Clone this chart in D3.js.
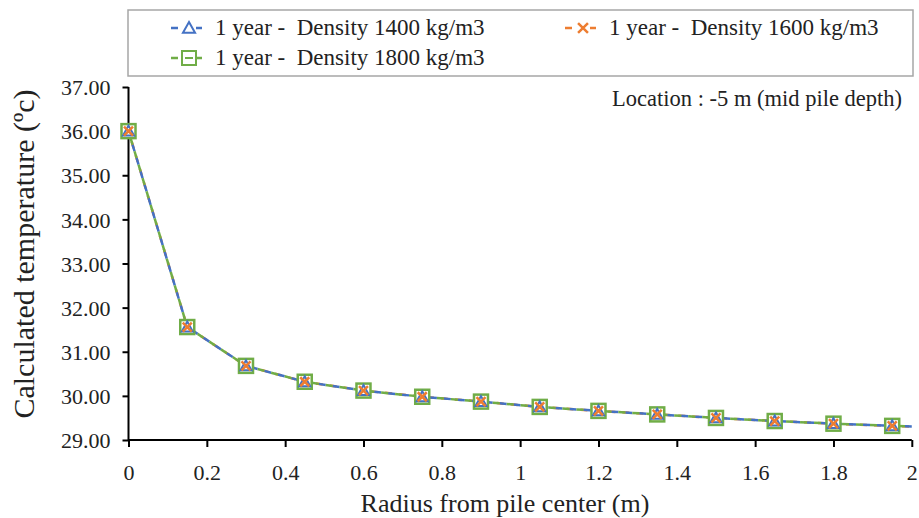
<!DOCTYPE html>
<html>
<head>
<meta charset="utf-8">
<script src="https://cdn.jsdelivr.net/npm/d3@7"></script>
<style>
  html, body { margin: 0; padding: 0; background: #fff; }
  svg { display: block; }
</style>
</head>
<body>
<svg id="chart" width="919" height="518"></svg>
<script>
// Radial distance from the pile centre (m)
const radius = [0, 0.15, 0.3, 0.45, 0.6, 0.75, 0.9, 1.05, 1.2, 1.35, 1.5, 1.65, 1.8, 1.95, 2.1];
// Calculated temperature after one year (°C) for each soil density
const temp1400 = [36.00, 31.56, 30.68, 30.32, 30.12, 29.98, 29.87, 29.75, 29.66, 29.58, 29.50, 29.43, 29.37, 29.32, 29.27];
const temp1600 = [36.00, 31.56, 30.68, 30.32, 30.12, 29.98, 29.87, 29.75, 29.66, 29.58, 29.50, 29.43, 29.37, 29.32, 29.27];
const temp1800 = [36.00, 31.56, 30.68, 30.32, 30.12, 29.98, 29.87, 29.75, 29.66, 29.58, 29.50, 29.43, 29.37, 29.32, 29.27];
const seriesNames = ["1 year -  Density 1400 kg/m3", "1 year -  Density 1600 kg/m3", "1 year -  Density 1800 kg/m3"];
const xTicks = [0, 0.2, 0.4, 0.6, 0.8, 1, 1.2, 1.4, 1.6, 1.8, 2];
const yTicks = [29, 30, 31, 32, 33, 34, 35, 36, 37];

const FONT = '"Liberation Serif", "Times New Roman", Tinos, serif';
const svg = d3.select("#chart");
const m = { left: 128.5, right: 911.8, top: 87, bottom: 440 };

const x = d3.scaleLinear().domain([0, 2]).range([m.left, m.right]);
const y = d3.scaleLinear().domain([29, 37]).range([m.bottom, m.top]);

const series = [
  { name: seriesNames[0], values: temp1400, color: "#4472C4", marker: "triangle", dash: "7,7", dashOffset: 0 },
  { name: seriesNames[1], values: temp1600, color: "#ED7D31", marker: "x", dash: "7,7", dashOffset: 3 },
  { name: seriesNames[2], values: temp1800, color: "#70AD47", marker: "square", dash: "7,7", dashOffset: 7 }
];

svg.append("defs").append("clipPath").attr("id", "plotClip")
  .append("rect").attr("x", m.left).attr("y", m.top - 20)
  .attr("width", m.right - m.left).attr("height", m.bottom - m.top + 20);

// Axes
const yAxis = d3.axisLeft(y).tickValues(yTicks).tickFormat(d3.format(".2f")).tickSize(6).tickPadding(12);
const xAxis = d3.axisBottom(x).tickValues(xTicks).tickFormat(d => d3.format("")(+d.toFixed(1))).tickSize(7).tickPadding(17);

const gy = svg.append("g").attr("transform", `translate(${m.left},0)`).call(yAxis);
const gx = svg.append("g").attr("transform", `translate(0,${m.bottom})`).call(xAxis);
[gx, gy].forEach(g => {
  g.attr("font-family", null).attr("font-size", null);
  g.select(".domain").attr("stroke", "#000").attr("stroke-width", 2);
  g.selectAll(".tick line").attr("stroke", "#000").attr("stroke-width", 2);
  g.selectAll(".tick text").attr("fill", "#222").style("font-size", "22px");
});
gy.selectAll(".tick text").attr("dy", "0.35em");
gy.select(".domain").attr("d", `M0,${m.bottom}V${m.top}`);
gx.select(".domain").attr("d", `M${m.left},0H${m.right}`);

// Lines
const line = d3.line().x((d, i) => x(radius[i])).y(d => y(d));
const plot = svg.append("g").attr("clip-path", "url(#plotClip)");
[series[1], series[0], series[2]].forEach(s => {
  plot.append("path").datum(s.values)
    .attr("d", line).attr("fill", "none")
    .attr("stroke", s.color).attr("stroke-width", 2.5)
    .attr("stroke-dasharray", s.dash).attr("stroke-dashoffset", s.dashOffset);
});

// Marker drawing
function drawMarker(g, type, color, cx, cy, scale) {
  const k = scale || 1;
  if (type === "square") {
    g.append("rect").attr("x", cx - 7 * k).attr("y", cy - 7 * k)
      .attr("width", 14 * k).attr("height", 14 * k)
      .attr("fill", "#fff").attr("stroke", color).attr("stroke-width", 2.5);
  } else if (type === "triangle") {
    const s = 5.5 * k;
    g.append("path").attr("d", `M${cx},${cy - s}L${cx + s},${cy + s * 0.8}L${cx - s},${cy + s * 0.8}Z`)
      .attr("fill", "none").attr("stroke", color).attr("stroke-width", 2);
  } else {
    const s = 4.5 * k;
    g.append("path").attr("d", `M${cx - s},${cy - s}L${cx + s},${cy + s}M${cx - s},${cy + s}L${cx + s},${cy - s}`)
      .attr("fill", "none").attr("stroke", color).attr("stroke-width", 2.5);
  }
}

const markers = svg.append("g");
[series[2], series[0], series[1]].forEach(s => {
  s.values.forEach((v, i) => {
    if (radius[i] <= 2) drawMarker(markers, s.marker, s.color, x(radius[i]), y(v));
  });
});

// Axis titles
svg.append("text").attr("x", 505).attr("y", 512).attr("text-anchor", "middle")
  .attr("fill", "#222").style("font-size", "26px").text("Radius from pile center (m)");
svg.append("text").attr("transform", "translate(34,254) rotate(-90)").attr("text-anchor", "middle")
  .attr("fill", "#222").style("font-size", "30px").text("Calculated temperature (\u00BAc)");

// Location note
svg.append("text").attr("x", 902).attr("y", 106).attr("text-anchor", "end")
  .attr("fill", "#222").style("font-size", "22.5px").text("Location : -5 m (mid pile depth)");

// Legend
const lg = svg.append("g");
lg.append("rect").attr("x", 128).attr("y", 10).attr("width", 785).attr("height", 66)
  .attr("fill", "#fff").attr("stroke", "#a6a6a6").attr("stroke-width", 1.5);
const legendPos = [
  { mx: 189, ty: 35 },
  { mx: 583, ty: 35 },
  { mx: 189, ty: 65 }
];
series.forEach((s, i) => {
  const p = legendPos[i];
  const cy = p.ty - 7;
  lg.append("line").attr("x1", p.mx - 18).attr("x2", p.mx + 18).attr("y1", cy).attr("y2", cy)
    .attr("stroke", s.color).attr("stroke-width", 2.5).attr("stroke-dasharray", "7,5");
  if (s.marker === "square") {
    lg.append("rect").attr("x", p.mx - 7).attr("y", cy - 7).attr("width", 14).attr("height", 14)
      .attr("fill", "#fff").attr("stroke", s.color).attr("stroke-width", 2);
    lg.append("line").attr("x1", p.mx - 4).attr("x2", p.mx + 4).attr("y1", cy).attr("y2", cy)
      .attr("stroke", s.color).attr("stroke-width", 2);
  } else {
    lg.append("rect").attr("x", p.mx - 7).attr("y", cy - 8).attr("width", 14).attr("height", 16).attr("fill", "#fff");
    drawMarker(lg, s.marker, s.color, p.mx, cy, 1.1);
  }
  lg.append("text").attr("x", p.mx + 26).attr("y", p.ty).attr("fill", "#222")
    .style("font-size", "23px").style("white-space", "pre").text(s.name);
});

// Every label uses the serif face
svg.selectAll("text").style("font-family", FONT);
</script>
</body>
</html>
